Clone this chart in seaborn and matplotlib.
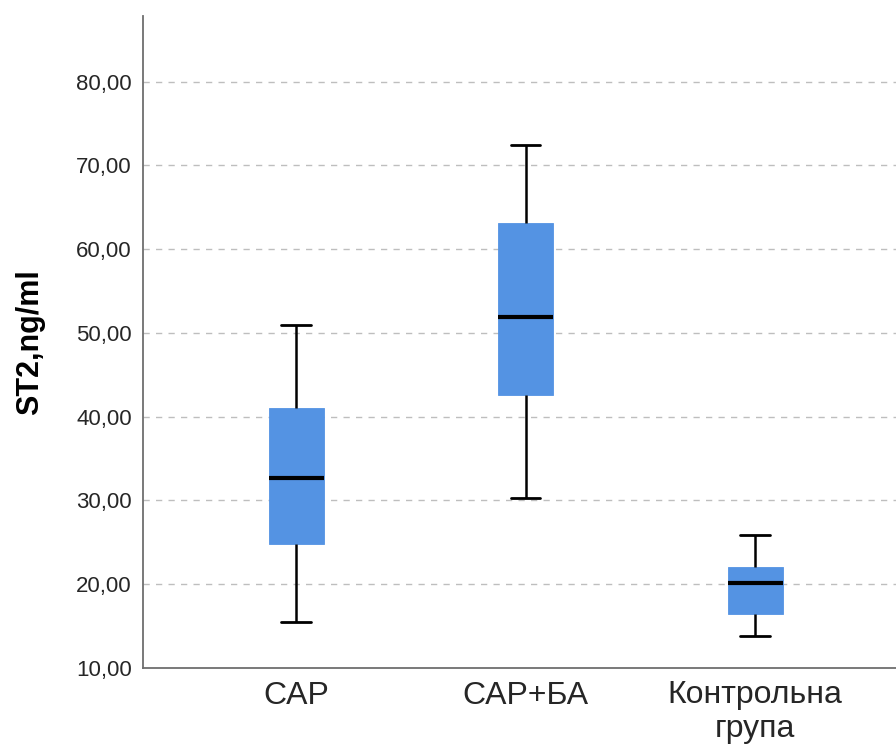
import matplotlib
matplotlib.use("Agg")
import matplotlib.pyplot as plt
import seaborn as sns
import pandas as pd
from matplotlib.ticker import FuncFormatter

# Group labels
categories = ["CAP", "CAP+БА", "Контрольна\nгрупа"]
# Five-number summaries: min, Q1, median, Q3, max
cap_values = [15.5, 24.8, 32.65, 41.0, 51.0]
cap_ba_values = [30.3, 42.6, 51.9, 63.1, 72.4]
control_values = [13.8, 16.4, 20.1, 22.1, 25.9]
y_ticks = [10, 20, 30, 40, 50, 60, 70, 80]

rows = []
for cat, vals in zip(categories, [cap_values, cap_ba_values, control_values]):
    for v in vals:
        rows.append({"group": cat, "value": v})
df = pd.DataFrame(rows)

sns.set_style("white")
plt.rcParams["font.family"] = ["Liberation Sans", "DejaVu Sans"]

fig = plt.figure(figsize=(8.96, 7.44), dpi=100)
ax = fig.add_axes([143 / 896, 1 - 668 / 744, 1 - 143 / 896, (668 - 16) / 744])

box_color = "#5493E3"
sns.boxplot(
    data=df, x="group", y="value", order=categories, ax=ax,
    color=box_color, saturation=1, width=0.24, whis=(0, 100),
    showfliers=False, linecolor="black",
    boxprops=dict(edgecolor=box_color, linewidth=0.6),
    medianprops=dict(color="black", linewidth=3.0),
    whiskerprops=dict(color="black", linewidth=1.8),
    capprops=dict(color="black", linewidth=2.0),
    capwidths=0.13,
    zorder=3,
)

ax.set_ylim(10, 87.85)
ax.set_xlim(-0.667, 2.614)
ax.set_yticks(y_ticks)
ax.yaxis.set_major_formatter(FuncFormatter(lambda v, p: f"{v:.2f}".replace(".", ",")))

for t in y_ticks[1:]:
    ax.axhline(t, color="#BEBEBE", linewidth=1.0, linestyle=(0, (4.5, 4.5)), zorder=1)

for side in ["top", "right"]:
    ax.spines[side].set_visible(False)
for side in ["left", "bottom"]:
    ax.spines[side].set_color("#6E6E6E")
    ax.spines[side].set_linewidth(1.3)

ax.tick_params(axis="y", length=0, pad=8, labelsize=16, labelcolor="#262626")
ax.tick_params(axis="x", length=0, pad=9, labelsize=23, labelcolor="#262626")
for lab in ax.get_xticklabels():
    lab.set_linespacing(1.15)

ax.set_xlabel("")
ax.set_ylabel("ST2,ng/ml", fontsize=22, fontweight="bold", color="black", labelpad=22)

fig.savefig("out.png", dpi=100, facecolor="white")
